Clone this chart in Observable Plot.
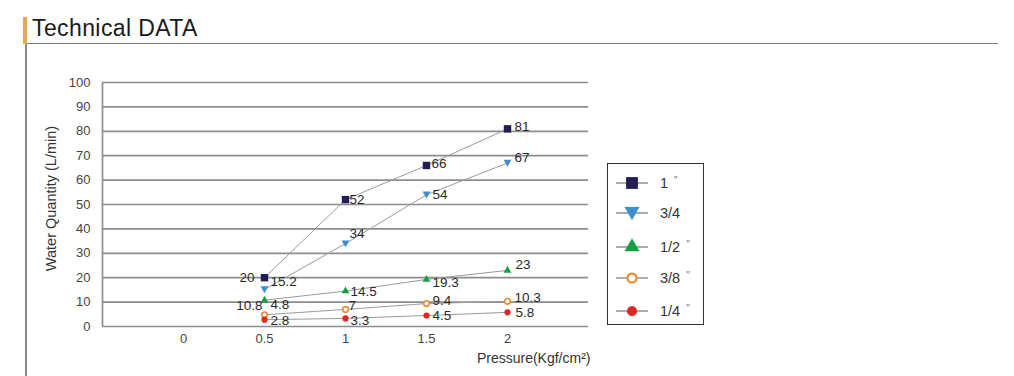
<!DOCTYPE html>
<html><head><meta charset="utf-8">
<script src="https://cdn.jsdelivr.net/npm/d3@7"></script>
<script src="https://cdn.jsdelivr.net/npm/@observablehq/plot@0.6"></script>
<style>
body{margin:0;background:#fff;font-family:"Liberation Sans",Arial,sans-serif;}
#wrap{position:relative;width:1014px;height:376px;overflow:hidden;background:#fff;}
.bar{position:absolute;left:23px;top:17px;width:4px;height:27px;background:#e9a84c;}
.title{position:absolute;left:32px;top:15px;font-size:23px;color:#1a1a1a;letter-spacing:0.4px;}
.hline{position:absolute;left:27px;top:43px;width:971px;height:1px;background:#7a7a7a;}
.vline{position:absolute;left:25px;top:44px;width:2px;height:332px;background:#8a8a8a;}
#chart{position:absolute;left:0;top:60px;}
#legend{position:absolute;left:607px;top:163px;width:97px;height:162px;border:1px solid #333;box-sizing:border-box;}
.item{position:absolute;left:0;height:20px;width:96px;}
.item svg{position:absolute;left:8px;top:0;}
.item span{position:absolute;left:52px;top:2px;font-size:14.5px;color:#333;}
.item sup{font-size:10px;color:#777;margin-left:6px;vertical-align:4px;}
</style></head><body>
<div id="wrap">
  <div class="bar"></div><div class="title">Technical DATA</div>
  <div class="hline"></div><div class="vline"></div>
  <div id="chart"></div>
  <div id="legend"></div>
</div>
<script>
// ---- data ----
const pressures = [0.5, 1, 1.5, 2];
const seriesNames = ["1\"", "3/4", "1/2\"", "3/8\"", "1/4\""];
const flow1 = [20, 52, 66, 81];
const flow34 = [15.2, 34, 54, 67];
const flow12 = [10.8, 14.5, 19.3, 23];
const flow38 = [4.8, 7, 9.4, 10.3];
const flow14 = [2.8, 3.3, 4.5, 5.8];
const xTicks = [0, 0.5, 1, 1.5, 2];
const yTicks = [0, 10, 20, 30, 40, 50, 60, 70, 80, 90, 100];
const legendLabels = ["1", "3/4", "1/2", "3/8", "1/4"];
const legendQuote = [true, false, true, true, true];
const xLabel = "Pressure(Kgf/cm²)";
const yLabel = "Water Quantity (L/min)";

const allFlows = [flow1, flow34, flow12, flow38, flow14];
const rows = [];
seriesNames.forEach((s, i) => pressures.forEach((p, j) => rows.push({series: s, idx: i, pressure: p, flow: allFlows[i][j]})));

// ---- styles ----
const triDown = {draw(ctx, size) {
  const h = Math.sqrt(size) * 1.15, w = h * 0.62;
  ctx.moveTo(-w, -h * 0.5); ctx.lineTo(w, -h * 0.5); ctx.lineTo(0, h * 0.6); ctx.closePath();
}};
const styles = [
  {symbol: "square", fill: "#221d52", stroke: "none", r: 4.2, lr: 4.3},
  {symbol: triDown, fill: "#3a8fd2", stroke: "none", r: 3.1, lr: 3.8},
  {symbol: "triangle", fill: "#17a043", stroke: "none", r: 2.9, lr: 3.6},
  {symbol: "circle", fill: "white", stroke: "#ec8a2e", r: 2.8, lr: 2.9, sw: 1.6},
  {symbol: "circle", fill: "#dc2a20", stroke: "none", r: 3.1, lr: 3.3}
];
// label offsets (px), keyed by series index and pressure
function off(d) {
  const k = d.idx + "@" + d.pressure;
  const m = {
    "0@0.5": [-10, 0], "1@0.5": [6, -8], "2@0.5": [-2, 6], "3@0.5": [6, -10], "4@0.5": [6, 1],
    "1@1": [4, -10], "2@1": [5, 1], "2@1.5": [6, 3], "2@2": [8, -6],
    "3@1": [3, -4], "3@1.5": [6, -3], "3@2": [7, -4], "4@1": [5, 2], "4@1.5": [6, 0], "4@2": [8, 0],
    "1@2": [7, -5], "0@1": [4, 0], "0@1.5": [5, -2], "0@2": [7, -2]
  };
  return m[k] || [6, 0];
}
const leftAnchored = d => (d.idx === 0 || d.idx === 2) && d.pressure === 0.5;

const marks = [
  Plot.ruleY(yTicks, {stroke: "#8d8d8d", strokeWidth: 1.7}),
  Plot.ruleX([-0.5], {y1: 0, y2: 100, stroke: "#8d8d8d", strokeWidth: 1.7}),
  Plot.axisY({ticks: yTicks, tickSize: 0, tickPadding: 12, label: null}),
  Plot.axisX({ticks: xTicks, tickSize: 0, tickPadding: 7, tickFormat: d => String(d), label: null}),
  Plot.text([yLabel], {frameAnchor: "left", rotate: -90, textAnchor: "middle", dx: -51, dy: -6, fontSize: 14.5, fill: "#333"}),
  Plot.text([xLabel], {frameAnchor: "bottom-right", textAnchor: "end", lineAnchor: "bottom", dx: 2, dy: 36, fontSize: 14, fill: "#333"}),
  Plot.line(rows, {x: "pressure", y: "flow", z: "series", stroke: "#9a9a9a", strokeWidth: 1})
];
styles.forEach((st, i) => {
  marks.push(Plot.dot(rows.filter(d => d.idx === i), {x: "pressure", y: "flow", symbol: () => st.symbol, r: st.r, fill: st.fill, stroke: st.stroke, strokeWidth: st.sw || 1}));
});
const labRows = rows.map(d => ({...d, ox: off(d)[0], oy: off(d)[1]}));
function labelMark(data, anchor) {
  return Plot.text(data, {x: "pressure", y: "flow", text: d => String(d.flow), textAnchor: anchor,
    fill: "#2a2a2a", fontSize: 13.5,
    render(index, scales, values, dims, ctx, next) {
      const g = next(index, scales, values, dims, ctx);
      d3.select(g).selectAll("text").each(function(_, k) {
        const d = data[index[k]];
        const el = d3.select(this);
        const t = el.attr("transform") || "";
        el.attr("transform", t + ` translate(${d.ox},${d.oy})`);
      });
      return g;
    }});
}
marks.push(labelMark(labRows.filter(d => !leftAnchored(d)), "start"));
marks.push(labelMark(labRows.filter(d => leftAnchored(d)), "end"));

const chart = Plot.plot({
  width: 1014, height: 316,
  marginLeft: 102, marginRight: 426, marginTop: 22, marginBottom: 50,
  x: {domain: [-0.5, 2.5]},
  y: {domain: [0, 100]},
  style: {fontFamily: "'Liberation Sans', Arial, sans-serif", fontSize: "13px", color: "#444", background: "transparent", overflow: "visible"},
  marks
});
document.getElementById("chart").appendChild(chart);

// ---- legend ----
const leg = document.getElementById("legend");
const ys = [9, 39, 73, 104, 137];
legendLabels.forEach((lab, i) => {
  const st = styles[i];
  const div = document.createElement("div");
  div.className = "item";
  div.style.top = ys[i] + "px";
  const sym = d3.symbol(typeof st.symbol === "string" ? ({square: d3.symbolSquare, triangle: d3.symbolTriangle, circle: d3.symbolCircle})[st.symbol] : st.symbol, Math.PI * (st.lr * 1.55) ** 2)();
  div.innerHTML = `<svg width="40" height="20"><line x1="0" x2="32" y1="10" y2="10" stroke="#777" stroke-width="1.2"/>
    <path d="${sym}" transform="translate(16,10)" fill="${st.fill}" stroke="${st.stroke}" stroke-width="${(st.sw || 1) * 1.4}"/></svg>
    <span>${lab}${legendQuote[i] ? "<sup>\"</sup>" : ""}</span>`;
  leg.appendChild(div);
});
</script>
</body></html>
